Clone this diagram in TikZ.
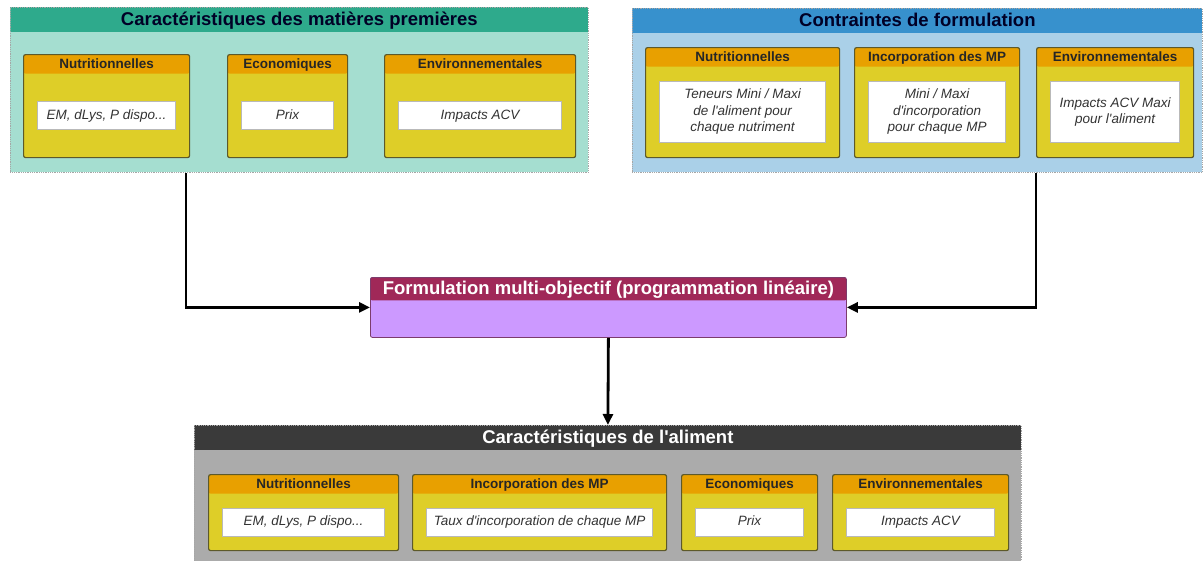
\documentclass[tikz,border=0pt]{standalone}
\usepackage{fontspec}
\setmainfont{Liberation Sans}[Ligatures=TeXOff]
\usetikzlibrary{arrows.meta,calc}
\definecolor{vertH}{HTML}{2EAA8C}\definecolor{vertC}{HTML}{A5DED0}
\definecolor{bleuH}{HTML}{3791CD}\definecolor{bleuC}{HTML}{AAD0E8}
\definecolor{orangeH}{HTML}{E8A000}\definecolor{jaune}{HTML}{DECE28}
\definecolor{prune}{HTML}{A02858}\definecolor{lilas}{HTML}{CC99FF}
\definecolor{grisH}{HTML}{3A3A3A}\definecolor{grisC}{HTML}{ABABAB}
\tikzset{>=Triangle,every node/.style={font=\fontsize{13.5}{16.5}\selectfont,inner sep=0pt},
bande/.style 2 args={path picture={\fill[#1] (path picture bounding box.north west) rectangle ([yshift=-#2]path picture bounding box.north east);}},
cadre/.style={anchor=north west,densely dotted,draw=gray!70,line width=.8pt},
sous/.style={anchor=north west,draw=olive!55!black,fill=jaune,line width=1.2pt,rounded corners=2pt,bande={orangeH}{19pt}},
texte/.style={draw=gray!55,fill=white,line width=.8pt,align=center,font=\fontsize{13.5}{16.5}\selectfont\itshape,text=black!80,
  execute at begin node={\rule{0pt}{10pt}},execute at end node={\rule[-3pt]{0pt}{3pt}}},
titre/.style={font=\fontsize{18.5}{20}\selectfont\bfseries,text height=13pt,text depth=3.5pt},
stitre/.style={font=\fontsize{13.5}{15}\selectfont\bfseries,text=black!85,text height=10pt,text depth=3pt},
fleche/.style={line width=2.8pt,->,>={Triangle[length=11pt,width=10pt]}}}
\newcommand\bloc[7]{\node[sous,minimum width=#3pt,minimum height=#4pt] (#1) at (#2) {};
\node[stitre] (#1t) at ([yshift=-10.5pt]#1.north) {#5};
\node[texte,minimum width=#3pt-28pt,minimum height=#6pt] (#1b) at ([yshift=-9.5pt]#1.center) {#7};}
\begin{document}
\begin{tikzpicture}[x=1pt,y=-1pt]
\useasboundingbox (0,0) rectangle (1203,560);
\node[cadre,fill=vertC,bande={vertH}{25pt},minimum width=578pt,minimum height=165pt] (mp) at (10,7) {};
\node[titre,text=black!85!blue] (mpt) at ([yshift=-14pt]mp.north) {Caractéristiques des matières premières};
\node[cadre,fill=bleuC,bande={bleuH}{25pt},minimum width=570pt,minimum height=164pt] (cf) at (632,8) {};
\node[titre,text=black!85!blue] (cft) at ([yshift=-14pt]cf.north) {Contraintes de formulation};
\node[anchor=north west,fill=lilas,draw=prune!60!lilas!70!black,line width=.8pt,rounded corners=2pt,bande={prune}{23pt},minimum width=476pt,minimum height=60pt] (form) at (370,277) {};
\node[titre,text=white] (formt) at ([yshift=-13pt]form.north) {Formulation multi-objectif (programmation linéaire)};
\node[cadre,fill=grisC,bande={grisH}{25pt},minimum width=827pt,minimum height=150pt] (alim) at (194,425) {};
\node[titre,text=white] (alimt) at ([yshift=-14pt]alim.north) {Caractéristiques de l'aliment};
\bloc{mpN}{23,54}{166}{103}{Nutritionnelles}{28}{EM, dLys, P dispo...}
\bloc{mpE}{227,54}{120}{103}{Economiques}{28}{Prix}
\bloc{mpV}{384,54}{191}{103}{Environnementales}{28}{Impacts ACV}
\bloc{cfN}{645,47}{194}{110}{Nutritionnelles}{61}{Teneurs Mini / Maxi\\de l'aliment pour\\chaque nutriment}
\bloc{cfI}{854,47}{165}{110}{Incorporation des MP}{61}{Mini / Maxi\\d'incorporation\\pour chaque MP}
\bloc{cfV}{1036,47}{157}{110}{Environnementales}{61}{Impacts ACV Maxi\\pour l'aliment}
\bloc{alN}{208,474}{190}{76}{Nutritionnelles}{28}{EM, dLys, P dispo...}
\bloc{alI}{412,474}{254}{76}{Incorporation des MP}{28}{Taux d'incorporation de chaque MP}
\bloc{alE}{681,474}{136}{76}{Economiques}{28}{Prix}
\bloc{alV}{832,474}{176}{76}{Environnementales}{28}{Impacts ACV}
\draw[fleche] ([xshift=176pt]mp.south west) |- (form.west);
\draw[fleche] (cfV.west |- cf.south) |- (form.east);
\draw[fleche] (form.south) -- (alim.north);
\end{tikzpicture}
\end{document}
